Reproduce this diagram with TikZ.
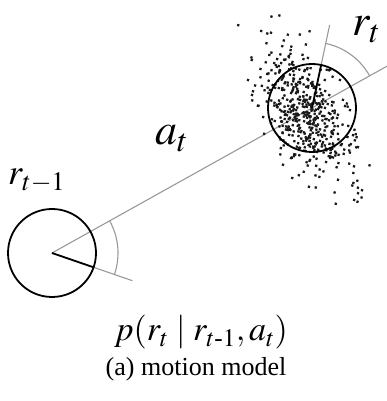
\documentclass[tikz,border=0pt]{standalone}
\usepackage{amsmath}
\usepackage{mathptmx}
\usepackage{fontspec}
\setmainfont{Liberation Serif}
\usetikzlibrary{calc}

\begin{document}
\begin{tikzpicture}[x=1pt,y=1pt,
  pose/.style={line width=1.8pt, black},
  ray/.style={line width=1.1pt, black!40},
  sample/.style={fill=black!90},
  label/.style={inner sep=0pt, anchor=base west}]

\useasboundingbox (0,0) rectangle (387,401);

%---------------------------------------
% Pose parameters
%---------------------------------------
\def\R{44}       % robot radius
\def\Ray{85}     % length of heading rays
\def\Arc{66}     % radius of angle arcs
\def\Dir{29.15}  % direction of the action
\def\Hprev{-19}  % heading at t-1
\def\Hcurr{78}   % heading at t

\coordinate (prev) at (52,148);
\coordinate (curr) at (312,293);
\coordinate (far) at ($(curr)+(\Dir:90)$);
\coordinate (prevray) at ($(prev)+(\Hprev:\Ray)$);
\coordinate (currray) at ($(curr)+(\Hcurr:\Ray)$);
\coordinate (prevhead) at ($(prev)+(\Hprev:\R)$);
\coordinate (currhead) at ($(curr)+(\Hcurr:\R)$);

% action line and heading rays
\draw[ray] (prev) -- (far);
\draw[ray] (prev) -- (prevray);
\draw[ray] (curr) -- (currray);

% angle arcs
\draw[ray] ($(prev)+(\Hprev:\Arc)$)
  arc[start angle=\Hprev, end angle=\Dir, radius=\Arc];
\draw[ray] ($(curr)+(\Dir:\Arc)$)
  arc[start angle=\Dir, end angle=\Hcurr, radius=\Arc];

%---------------------------------------
% Samples of the new pose
%---------------------------------------
\pgfmathsetseed{11}
\begin{scope}[shift={(305,292)}, rotate=-61]
  \foreach \i in {1,...,340}{
    \pgfmathsetmacro\u{(rand+rand+rand)*30}
    \pgfmathsetmacro\v{(rand+rand+rand)*19}
    \fill[sample] (\u,\v) circle (1.6);
  }
  \foreach \i in {1,...,160}{
    \pgfmathsetmacro\u{(rand+rand+rand)*48}
    \pgfmathsetmacro\v{(rand+rand+rand)*16}
    \fill[sample] (\u,\v) circle (1.6);
  }
\end{scope}

% robot poses
\draw[pose] (prev) circle (\R);
\draw[pose] (prev) -- (prevhead);
\draw[pose] (curr) circle (\R);
\draw[pose] (curr) -- (currhead);

% labels
\node[label, font=\fontsize{36}{36}\selectfont] (lprev) at (8,216) {$r_{t-1}$};
\node[label, font=\fontsize{44}{44}\selectfont] (laction) at (155,256) {$a_t$};
\node[label, font=\fontsize{44}{44}\selectfont] (lcurr) at (352,365) {$r_t$};

\node[inner sep=0pt, anchor=base, font=\fontsize{34}{34}\selectfont] (model)
  at (201,60) {$p(r_t \mid r_{t\textrm{-}1}, a_t)$};
\node[inner sep=0pt, anchor=base, font=\fontsize{26}{26}\selectfont] (caption)
  at (196,25) {(a) motion model};

\end{tikzpicture}
\end{document}
